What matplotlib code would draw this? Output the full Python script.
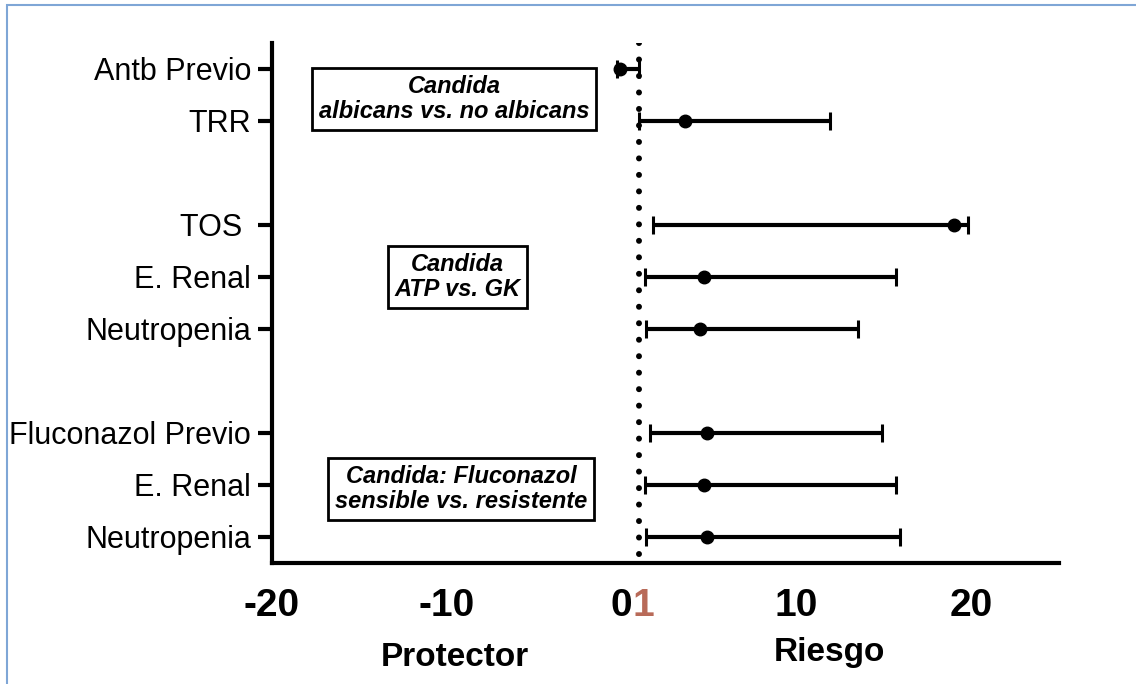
import matplotlib.pyplot as plt
from matplotlib.patches import Rectangle

plt.rcParams['font.family'] = ['Liberation Sans', 'DejaVu Sans']

# factores (de arriba hacia abajo) y posicion en el eje y
factores = ['Antb Previo', 'TRR', 'TOS ', 'E. Renal', 'Neutropenia',
            'Fluconazol Previo', 'E. Renal', 'Neutropenia']
posY = [0, 1, 3, 4, 5, 7, 8, 9]

# OR e intervalo de confianza
orVal = [-0.1, 3.6, 19.0, 4.7, 4.5, 4.9, 4.7, 4.9]
icBajo = [-0.3, 1.0, 1.8, 1.3, 1.4, 1.6, 1.3, 1.4]
icAlto = [1.0, 11.9, 19.8, 15.7, 13.5, 14.9, 15.7, 15.9]

xTicks = [-20, -10, 0, 10, 20]
xLabels = ['-20', '-10', '0', '10', '20']
lineaRef = 1

grupos = ['Candida\nalbicans vs. no albicans',
          'Candida\nATP vs. GK',
          'Candida: Fluconazol\nsensible vs. resistente']
grupoY = [0.58, 4.0, 8.08]
grupoX = [-9.6, -9.4, -9.2]

fig = plt.figure(figsize=(11.36, 6.84), dpi=100)
ax = fig.add_axes([272/1136, 1-563/684, (1059-272)/1136, (563-43)/684])

errIzq = [o - b for o, b in zip(orVal, icBajo)]
errDer = [a - o for o, a in zip(orVal, icAlto)]
ax.errorbar(orVal, posY, xerr=[errIzq, errDer], fmt='o', color='black',
            ms=9, lw=3, capsize=6.5, capthick=2.2, zorder=3)

# linea punteada en 1
ax.plot([lineaRef, lineaRef], [-0.5, 9.42], color='black', lw=4.3,
        ls=(0, (0.01, 2.75)), dash_capstyle='round', zorder=2)

ax.set_xlim(-20, 25)
ax.set_ylim(9.5, -0.5)

ax.set_yticks(posY)
ax.set_yticklabels(factores, fontsize=22)
ax.tick_params(axis='y', length=10, width=3, pad=5)

ax.set_xticks(xTicks)
ax.set_xticklabels(xLabels, fontsize=28, fontweight='bold')
ax.tick_params(axis='x', length=0, pad=18)

# el "1" en rojo junto al 0
ax.text(lineaRef - 0.4, -0.048, str(lineaRef), transform=ax.get_xaxis_transform(),
        ha='left', va='top', fontsize=28, fontweight='bold', color='#b86a58')

for s in ['top', 'right']:
    ax.spines[s].set_visible(False)
for s in ['left', 'bottom']:
    ax.spines[s].set_linewidth(3)

for txt, gx, gy in zip(grupos, grupoX, grupoY):
    ax.text(gx, gy, txt, ha='center', va='center', fontsize=17,
            fontweight='bold', style='italic', linespacing=1.12,
            bbox=dict(boxstyle='square,pad=0.28', fc='white', ec='black', lw=2))

fig.text(455/1136, 1-657/684, 'Protector', ha='center', va='center',
         fontsize=24, fontweight='bold')
fig.text(829/1136, 1-652/684, 'Riesgo', ha='center', va='center',
         fontsize=24, fontweight='bold')

# marco azul
fig.patches.append(Rectangle((7/1136, -0.05), 1.2, 1-5/684+0.05,
                             transform=fig.transFigure, fill=False,
                             ec='#7fa6d6', lw=1.5))

fig.savefig('out.png', dpi=100)
